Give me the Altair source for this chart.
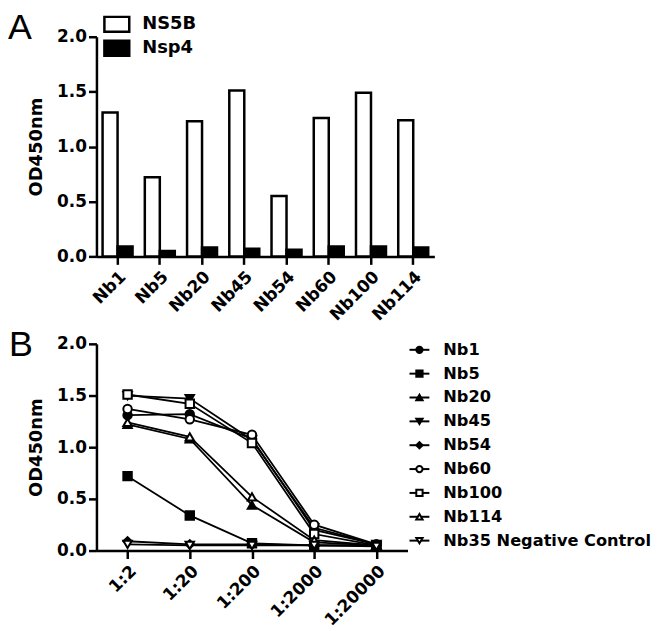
import altair as alt
import pandas as pd

# ---------- Panel A data ----------
nbs_a = ["Nb1", "Nb5", "Nb20", "Nb45", "Nb54", "Nb60", "Nb100", "Nb114"]
ns5b = [1.31, 0.72, 1.23, 1.51, 0.55, 1.26, 1.49, 1.24]
nsp4 = [0.09, 0.05, 0.08, 0.07, 0.06, 0.09, 0.09, 0.08]
antigens = ["NS5B", "Nsp4"]

# ---------- Panel B data ----------
dilutions = ["1:2", "1:20", "1:200", "1:2000", "1:20000"]
series_b = ["Nb1", "Nb5", "Nb20", "Nb45", "Nb54", "Nb60", "Nb100", "Nb114",
            "Nb35 Negative Control"]
vals_b = {
    "Nb1":   [1.31, 1.32, 1.08, 0.20, 0.06],
    "Nb5":   [0.72, 0.34, 0.07, 0.05, 0.05],
    "Nb20":  [1.22, 1.08, 0.44, 0.08, 0.05],
    "Nb45":  [1.50, 1.47, 1.07, 0.22, 0.06],
    "Nb54":  [0.09, 0.06, 0.06, 0.05, 0.05],
    "Nb60":  [1.37, 1.27, 1.12, 0.25, 0.06],
    "Nb100": [1.51, 1.42, 1.04, 0.16, 0.05],
    "Nb114": [1.24, 1.10, 0.52, 0.10, 0.05],
    "Nb35 Negative Control": [0.06, 0.05, 0.05, 0.05, 0.04],
}
shapes_b = ["circle", "square", "triangle-up", "triangle-down", "diamond",
            "circle", "square", "triangle-up", "triangle-down"]
fills_b = ["black"] * 5 + ["white"] * 4

FONT = "DejaVu Sans"

df_a = pd.DataFrame(
    [{"nb": n, "antigen": "NS5B", "od": v} for n, v in zip(nbs_a, ns5b)]
    + [{"nb": n, "antigen": "Nsp4", "od": v} for n, v in zip(nbs_a, nsp4)]
)
df_b = pd.DataFrame(
    [{"series": s, "dil": d, "od": v}
     for s in series_b for d, v in zip(dilutions, vals_b[s])]
)
leg_b = pd.DataFrame({"series": series_b})
letter_a = pd.DataFrame({"t": ["A"]})
letter_b = pd.DataFrame({"t": ["B"]})

yaxis = dict(values=[0, 0.5, 1.0, 1.5, 2.0], format=".1f", grid=False,
             labelFont=FONT, labelFontWeight="bold", labelFontSize=17,
             labelColor="black", titleFont=FONT, titleFontWeight="bold",
             titleFontSize=18, titleColor="black", titlePadding=11,
             domainColor="black", domainWidth=2.5, tickColor="black",
             tickWidth=2.5, tickSize=8, labelPadding=2)
xaxis = dict(labelAngle=-45, labelFont=FONT, labelFontWeight="bold",
             labelFontSize=17, labelColor="black", domainColor="black",
             domainWidth=2.5, tickColor="black", tickWidth=2.5, tickSize=8,
             labelPadding=4, title=None)

# ---------- Panel A ----------
bars = alt.Chart(df_a).mark_bar(stroke="black", strokeWidth=2.5).encode(
    x=alt.X("nb:N", sort=nbs_a,
            scale=alt.Scale(paddingInner=0.29, paddingOuter=0.145),
            axis=alt.Axis(**xaxis)),
    xOffset=alt.XOffset("antigen:N", sort=antigens,
                        scale=alt.Scale(paddingInner=0, paddingOuter=0)),
    y=alt.Y("od:Q", scale=alt.Scale(domain=[0, 2]),
            axis=alt.Axis(title="OD450nm", **yaxis)),
    fill=alt.Fill("antigen:N",
                  scale=alt.Scale(domain=antigens, range=["white", "black"]),
                  legend=alt.Legend(
                      title=None, orient="none", legendX=9, legendY=-24,
                      symbolType="M-1.25,-0.75H1.25V0.75H-1.25Z",
                      symbolSize=400, symbolStrokeColor="black",
                      symbolStrokeWidth=2.5, labelFont=FONT,
                      labelFontWeight="bold", labelFontSize=18,
                      labelColor="black", labelOffset=14, rowPadding=-5,
                      padding=0)),
)
txt_a = alt.Chart(letter_a).mark_text(
    font="Liberation Sans", fontSize=36, align="left", baseline="alphabetic",
    color="black").encode(x=alt.value(-89), y=alt.value(2), text="t:N")

chart_a = alt.layer(bars, txt_a).properties(width=340, height=221)

# ---------- Panel B ----------
xb = alt.X("dil:N", sort=dilutions,
           scale=alt.Scale(type="point", padding=0.5),
           axis=alt.Axis(**xaxis))
yb = alt.Y("od:Q", scale=alt.Scale(domain=[0, 2]),
           axis=alt.Axis(title="OD450nm", **yaxis))
shape_enc = alt.Shape("series:N",
                      scale=alt.Scale(domain=series_b, range=shapes_b),
                      legend=None)
fill_enc = alt.Fill("series:N",
                    scale=alt.Scale(domain=series_b, range=fills_b),
                    legend=None)

lines = alt.Chart(df_b).mark_line(color="black", strokeWidth=1.8).encode(
    x=xb, y=yb, detail="series:N")
pts = alt.Chart(df_b).mark_point(
    stroke="black", strokeWidth=2, size=72, opacity=1, fillOpacity=1
).encode(x=xb, y=yb, shape=shape_enc, fill=fill_enc)
data_b = alt.layer(lines, pts)

yleg = alt.Y("series:N", sort=series_b,
             scale=alt.Scale(type="point", domain=series_b,
                             range=[6, 198], padding=0),
             axis=None)
leg_rule = alt.Chart(leg_b).mark_rule(color="black", strokeWidth=2).encode(
    x=alt.value(315), x2=alt.value(335), y=yleg)
leg_pts = alt.Chart(leg_b).mark_point(
    stroke="black", strokeWidth=2, size=40, opacity=1, fillOpacity=1
).encode(x=alt.value(325), y=yleg, shape=shape_enc, fill=fill_enc)
leg_txt = alt.Chart(leg_b).mark_text(
    font=FONT, fontWeight="bold", fontSize=16.3, align="left",
    baseline="middle", color="black"
).encode(x=alt.value(349), y=yleg, text="series:N")
legend_b = alt.layer(leg_rule, leg_pts, leg_txt)

txt_b = alt.Chart(letter_b).mark_text(
    font="Liberation Sans", fontSize=36, align="left", baseline="alphabetic",
    color="black").encode(x=alt.value(-88), y=alt.value(12), text="t:N")

chart_b = alt.layer(data_b, legend_b, txt_b).resolve_scale(
    y="independent").properties(width=313, height=208)

chart = alt.vconcat(chart_a, chart_b, spacing=3).resolve_scale(
    fill="independent", shape="independent", y="independent",
    x="independent").configure_view(stroke=None).properties(
    padding=0, background="white")

chart.save("out.html", embed_options={"renderer": "svg", "actions": False})
